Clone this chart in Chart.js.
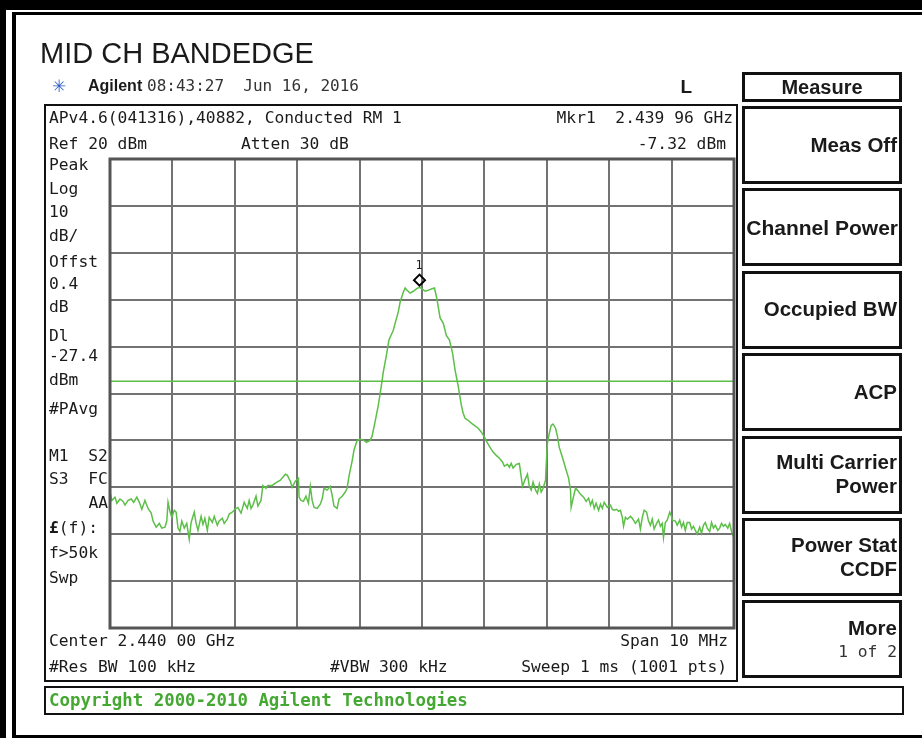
<!DOCTYPE html>
<html>
<head>
<meta charset="utf-8">
<script src="https://cdn.jsdelivr.net/npm/chart.js@4.4.0/dist/chart.umd.min.js"></script>
<style>
  html, body { margin: 0; padding: 0; background: #fff; }
  #page { position: relative; width: 922px; height: 738px; overflow: hidden; background: #fff; }
  #spec { position: absolute; left: 0; top: 0; }
  .t { position: absolute; line-height: 1; white-space: pre; color: #1a1a1a; }
  .box { position: absolute; box-sizing: border-box; border: 2px solid #111; }
  .key { position: absolute; box-sizing: border-box; border: 3px solid #111; left: 742px; width: 160px; }
  .blk { position: absolute; background: #000; }
</style>
</head>
<body>
<div id="page">
  <canvas id="spec" width="922" height="738"></canvas>
</div>
<script>
// trace (MHz, dBm)
const freqMHz = [
  2435.00, 2435.03, 2435.08, 2435.11, 2435.16, 2435.21, 2435.24, 2435.29, 2435.34, 2435.38,
  2435.43, 2435.47, 2435.51, 2435.56, 2435.61, 2435.66, 2435.69, 2435.74, 2435.79, 2435.83,
  2435.88, 2435.91, 2435.93, 2435.96, 2435.99, 2436.03, 2436.06, 2436.09, 2436.12, 2436.15,
  2436.19, 2436.23, 2436.27, 2436.30, 2436.35, 2436.38, 2436.41, 2436.46, 2436.49, 2436.52,
  2436.56, 2436.59, 2436.64, 2436.67, 2436.72, 2436.75, 2436.80, 2436.83, 2436.88, 2436.91,
  2436.96, 2437.00, 2437.05, 2437.10, 2437.15, 2437.20, 2437.23, 2437.26, 2437.29, 2437.34,
  2437.37, 2437.42, 2437.45, 2437.50, 2437.53, 2437.60, 2437.65, 2437.73, 2437.81, 2437.84,
  2437.89, 2437.92, 2437.97, 2438.02, 2438.03, 2438.06, 2438.10, 2438.14, 2438.18, 2438.21,
  2438.24, 2438.27, 2438.32, 2438.37, 2438.40, 2438.43, 2438.48, 2438.53, 2438.56, 2438.59,
  2438.64, 2438.67, 2438.72, 2438.77, 2438.80, 2438.83, 2438.88, 2438.91, 2438.96, 2439.01,
  2439.07, 2439.11, 2439.17, 2439.20, 2439.25, 2439.30, 2439.35, 2439.38, 2439.43, 2439.47,
  2439.54, 2439.57, 2439.62, 2439.65, 2439.70, 2439.73, 2439.76, 2439.81, 2439.86, 2439.91,
  2439.96, 2440.00, 2440.05, 2440.10, 2440.15, 2440.20, 2440.24, 2440.29, 2440.34, 2440.39,
  2440.44, 2440.49, 2440.53, 2440.58, 2440.63, 2440.66, 2440.69, 2440.74, 2440.79, 2440.84,
  2440.90, 2440.95, 2441.00, 2441.05, 2441.09, 2441.14, 2441.19, 2441.24, 2441.29, 2441.32,
  2441.37, 2441.40, 2441.43, 2441.46, 2441.51, 2441.56, 2441.58, 2441.61, 2441.66, 2441.69,
  2441.72, 2441.75, 2441.78, 2441.82, 2441.85, 2441.88, 2441.91, 2441.94, 2441.98, 2441.99,
  2442.01, 2442.04, 2442.07, 2442.10, 2442.14, 2442.17, 2442.20, 2442.25, 2442.30, 2442.35,
  2442.38, 2442.39, 2442.43, 2442.46, 2442.49, 2442.54, 2442.59, 2442.63, 2442.67, 2442.70,
  2442.73, 2442.76, 2442.79, 2442.83, 2442.86, 2442.89, 2442.92, 2442.97, 2443.02, 2443.05,
  2443.08, 2443.12, 2443.15, 2443.18, 2443.21, 2443.23, 2443.26, 2443.29, 2443.34, 2443.37,
  2443.40, 2443.42, 2443.47, 2443.50, 2443.53, 2443.56, 2443.60, 2443.63, 2443.66, 2443.69,
  2443.72, 2443.76, 2443.79, 2443.82, 2443.85, 2443.87, 2443.90, 2443.93, 2443.97, 2444.00,
  2444.01, 2444.06, 2444.09, 2444.13, 2444.16, 2444.19, 2444.22, 2444.25, 2444.29, 2444.32,
  2444.35, 2444.38, 2444.41, 2444.45, 2444.48, 2444.51, 2444.54, 2444.57, 2444.61, 2444.64,
  2444.67, 2444.70, 2444.74, 2444.77, 2444.80, 2444.83, 2444.86, 2444.90, 2444.93, 2444.96,
  2445.00
];
const levelDbm = [
  -51.0, -52.8, -52.1, -53.4, -52.5, -53.0, -53.8, -52.8, -52.5, -53.2,
  -52.1, -53.2, -54.7, -52.8, -54.5, -55.5, -57.2, -58.5, -57.7, -58.7,
  -58.5, -57.2, -53.2, -55.1, -56.4, -54.9, -55.3, -58.7, -59.4, -57.2,
  -58.7, -57.7, -61.1, -57.5, -55.3, -57.7, -59.2, -56.2, -57.9, -56.6,
  -59.2, -56.4, -57.5, -56.2, -58.1, -57.2, -56.6, -57.7, -56.8, -55.7,
  -55.3, -54.7, -54.3, -55.5, -53.2, -54.5, -52.8, -54.5, -53.8, -51.9,
  -54.0, -52.8, -49.6, -50.2, -49.6, -49.6, -49.1, -48.5, -47.2, -47.4,
  -48.7, -50.0, -48.7, -48.1, -52.1, -52.8, -53.0, -51.9, -53.4, -49.8,
  -52.8, -54.3, -54.5, -53.6, -52.5, -50.2, -50.6, -49.8, -51.7, -54.0,
  -54.5, -52.5, -51.9, -51.0, -50.2, -47.6, -44.4, -42.1, -40.0, -39.7,
  -40.0, -40.4, -40.0, -39.1, -35.9, -32.5, -28.2, -25.4, -21.8, -18.6,
  -16.5, -15.0, -12.6, -10.5, -8.4, -7.5, -8.0, -8.6, -8.2, -7.7,
  -7.3, -7.7, -8.2, -8.0, -7.7, -7.5, -9.9, -13.9, -15.0, -17.6,
  -18.6, -21.4, -25.0, -28.4, -32.5, -34.2, -35.3, -35.7, -36.3, -36.8,
  -37.4, -38.2, -39.3, -40.6, -41.5, -42.5, -43.2, -43.8, -44.6, -45.5,
  -45.1, -45.7, -44.9, -45.9, -45.1, -44.9, -46.8, -49.8, -48.1, -47.2,
  -49.8, -50.6, -48.9, -50.6, -51.3, -49.3, -51.0, -50.2, -48.5, -45.3,
  -40.6, -38.5, -36.8, -36.5, -37.4, -39.1, -41.5, -43.6, -45.9, -48.1,
  -50.6, -54.3, -51.9, -50.2, -50.6, -51.5, -52.1, -53.0, -52.3, -53.8,
  -52.8, -54.5, -53.4, -54.9, -53.6, -54.5, -53.2, -54.3, -53.8, -54.7,
  -54.9, -54.7, -55.1, -54.9, -56.4, -58.3, -56.4, -56.8, -56.2, -56.6,
  -57.2, -57.7, -56.8, -58.9, -56.4, -54.9, -55.3, -57.2, -58.1, -56.8,
  -58.9, -57.7, -57.0, -58.3, -57.7, -60.7, -57.5, -57.0, -55.3, -56.2,
  -57.0, -57.2, -58.1, -57.0, -58.5, -57.5, -59.2, -57.5, -57.5, -58.9,
  -58.3, -59.2, -60.0, -58.5, -59.8, -58.1, -57.5, -58.7, -59.4, -57.5,
  -58.7, -58.1, -59.2, -58.7, -57.7, -58.3, -57.9, -58.7, -57.7, -59.4,
  -60.9
];
const startMHz = 2435, stopMHz = 2445;
const refLevel = 20, bottomLevel = -80;
const displayLineDbm = -27.4;
const markerFreq = 2439.96, markerDbm = -7.32;

const green = '#5cbf48';
const page = document.getElementById('page');

function add(text, x, cy, size, o) {
  o = o || {};
  const d = document.createElement('div');
  d.className = 't';
  d.textContent = text;
  d.style.fontSize = size + 'px';
  d.style.fontFamily = o.font || '"DejaVu Sans Mono", monospace';
  if (o.bold) d.style.fontWeight = 'bold';
  if (o.color) d.style.color = o.color;
  if (o.right) d.style.right = (922 - x) + 'px'; else d.style.left = x + 'px';
  if (o.center) { d.style.left = (x - 100) + 'px'; d.style.width = '200px'; d.style.textAlign = 'center'; }
  d.style.top = (cy - 0.485 * size) + 'px';
  page.appendChild(d);
  return d;
}
function rect(cls, l, t, w, h) {
  const d = document.createElement('div');
  d.className = cls;
  d.style.left = l + 'px'; d.style.top = t + 'px';
  if (w != null) d.style.width = w + 'px';
  d.style.height = h + 'px';
  page.appendChild(d);
}

// outer frame (no right edge, the screenshot is cut there)
rect('blk', 0, 0, 922, 10);
rect('blk', 0, 0, 6, 738);
rect('blk', 12, 12, 910, 3);
rect('blk', 12, 12, 4, 726);
rect('blk', 12, 735, 910, 3);

// display frame + copyright box
rect('box', 44, 104, 694, 578);
rect('box', 44, 686, 860, 29);

// softkeys
rect('key', 742, 72, null, 30);
[106, 188, 271, 353, 436, 518, 600].forEach(function(t) { rect('key', 742, t, null, 78); });

const sans = '"Liberation Sans", Arial, sans-serif';
add('MID CH BANDEDGE', 40, 53, 29, {font: sans});
add('\u2733', 52, 86, 17, {font: '"DejaVu Sans", sans-serif', color: '#2f5fc4'});
add('Agilent', 88, 86, 16, {font: sans, bold: true});
add('08:43:27  Jun 16, 2016', 147, 86, 16, {color: '#333'});
add('L', 692, 86, 19, {font: sans, bold: true, right: true});

add('APv4.6(041316),40882, Conducted RM 1', 49, 118, 16.3);
add('Mkr1  2.439 96 GHz', 733, 118, 16.3, {right: true});
add('Ref 20 dBm', 49, 144, 16.3);
add('Atten 30 dB', 241, 144, 16.3);
add('-7.32 dBm', 726, 144, 16.3, {right: true});

const leftNotes = [['Peak', 165], ['Log', 189], ['10', 212], ['dB/', 236], ['Offst', 262], ['0.4', 284],
  ['dB', 307], ['Dl', 336], ['-27.4', 356], ['dBm', 380], ['#PAvg', 409], ['M1  S2', 456],
  ['S3  FC', 479], ['f>50k', 553], ['Swp', 578]];
leftNotes.forEach(function(n) { add(n[0], 49, n[1], 16.3); });
add('AA', 108, 503, 16.3, {right: true});
const ff = add('', 49, 528, 16.3);
ff.innerHTML = '<b>\u00a3</b>(f):';

add('Center 2.440 00 GHz', 49, 641, 16.3);
add('Span 10 MHz', 728, 641, 16.3, {right: true});
add('#Res BW 100 kHz', 49, 667, 16.3);
add('#VBW 300 kHz', 330, 667, 16.3);
add('Sweep 1 ms (1001 pts)', 727, 667, 16.3, {right: true});
add('Copyright 2000-2010 Agilent Technologies', 49, 700, 17.4, {bold: true, color: '#44a832'});
add('1', 419, 265, 12, {center: true});

// softkey labels
add('Measure', 822, 87, 20, {font: sans, bold: true, center: true});
add('Meas Off', 897, 145, 20.5, {font: sans, bold: true, right: true});
add('Channel Power', 898, 227, 21, {font: sans, bold: true, right: true});
add('Occupied BW', 897, 309, 20.5, {font: sans, bold: true, right: true});
add('ACP', 897, 392, 20.5, {font: sans, bold: true, right: true});
add('Multi Carrier', 897, 462, 20.5, {font: sans, bold: true, right: true});
add('Power', 897, 486, 20.5, {font: sans, bold: true, right: true});
add('Power Stat', 897, 545, 20.5, {font: sans, bold: true, right: true});
add('CCDF', 897, 569, 20.5, {font: sans, bold: true, right: true});
add('More', 897, 628, 20.5, {font: sans, bold: true, right: true});
add('1 of 2', 897, 652, 16.3, {right: true, color: '#333'});

const markerPlugin = {
  id: 'marker',
  afterDatasetsDraw(chart) {
    const c = chart.ctx, a = chart.chartArea;
    c.save();
    c.strokeStyle = '#555';
    c.lineWidth = 3;
    c.strokeRect(a.left, a.top, a.right - a.left, a.bottom - a.top);
    const px = chart.scales.x.getPixelForValue(markerFreq);
    const py = chart.scales.y.getPixelForValue(markerDbm) - 7;
    c.strokeStyle = '#000';
    c.lineWidth = 2;
    c.beginPath();
    c.moveTo(px, py - 5.5); c.lineTo(px + 5.5, py); c.lineTo(px, py + 5.5); c.lineTo(px - 5.5, py);
    c.closePath();
    c.stroke();
    c.restore();
  }
};

const ctx = document.getElementById('spec').getContext('2d');
new Chart(ctx, {
  type: 'line',
  data: {
    datasets: [{
      data: freqMHz.map(function(f, i) { return {x: f, y: levelDbm[i]}; }),
      borderColor: green,
      borderWidth: 1.5,
      pointRadius: 0,
      tension: 0
    }, {
      data: [{x: startMHz, y: displayLineDbm}, {x: stopMHz, y: displayLineDbm}],
      borderColor: green,
      borderWidth: 1.4,
      pointRadius: 0
    }]
  },
  options: {
    responsive: false,
    animation: false,
    layout: { padding: { left: 110, top: 159, right: 188, bottom: 110 } },
    plugins: { legend: { display: false }, tooltip: { enabled: false } },
    scales: {
      x: {
        type: 'linear', min: startMHz, max: stopMHz,
        ticks: { display: false, stepSize: 1 },
        grid: { color: '#737373', lineWidth: 2, drawTicks: false },
        border: { display: false }
      },
      y: {
        min: bottomLevel, max: refLevel,
        ticks: { display: false, stepSize: 10 },
        grid: { color: '#737373', lineWidth: 2, drawTicks: false },
        border: { display: false }
      }
    }
  },
  plugins: [markerPlugin]
});
</script>
</body>
</html>
